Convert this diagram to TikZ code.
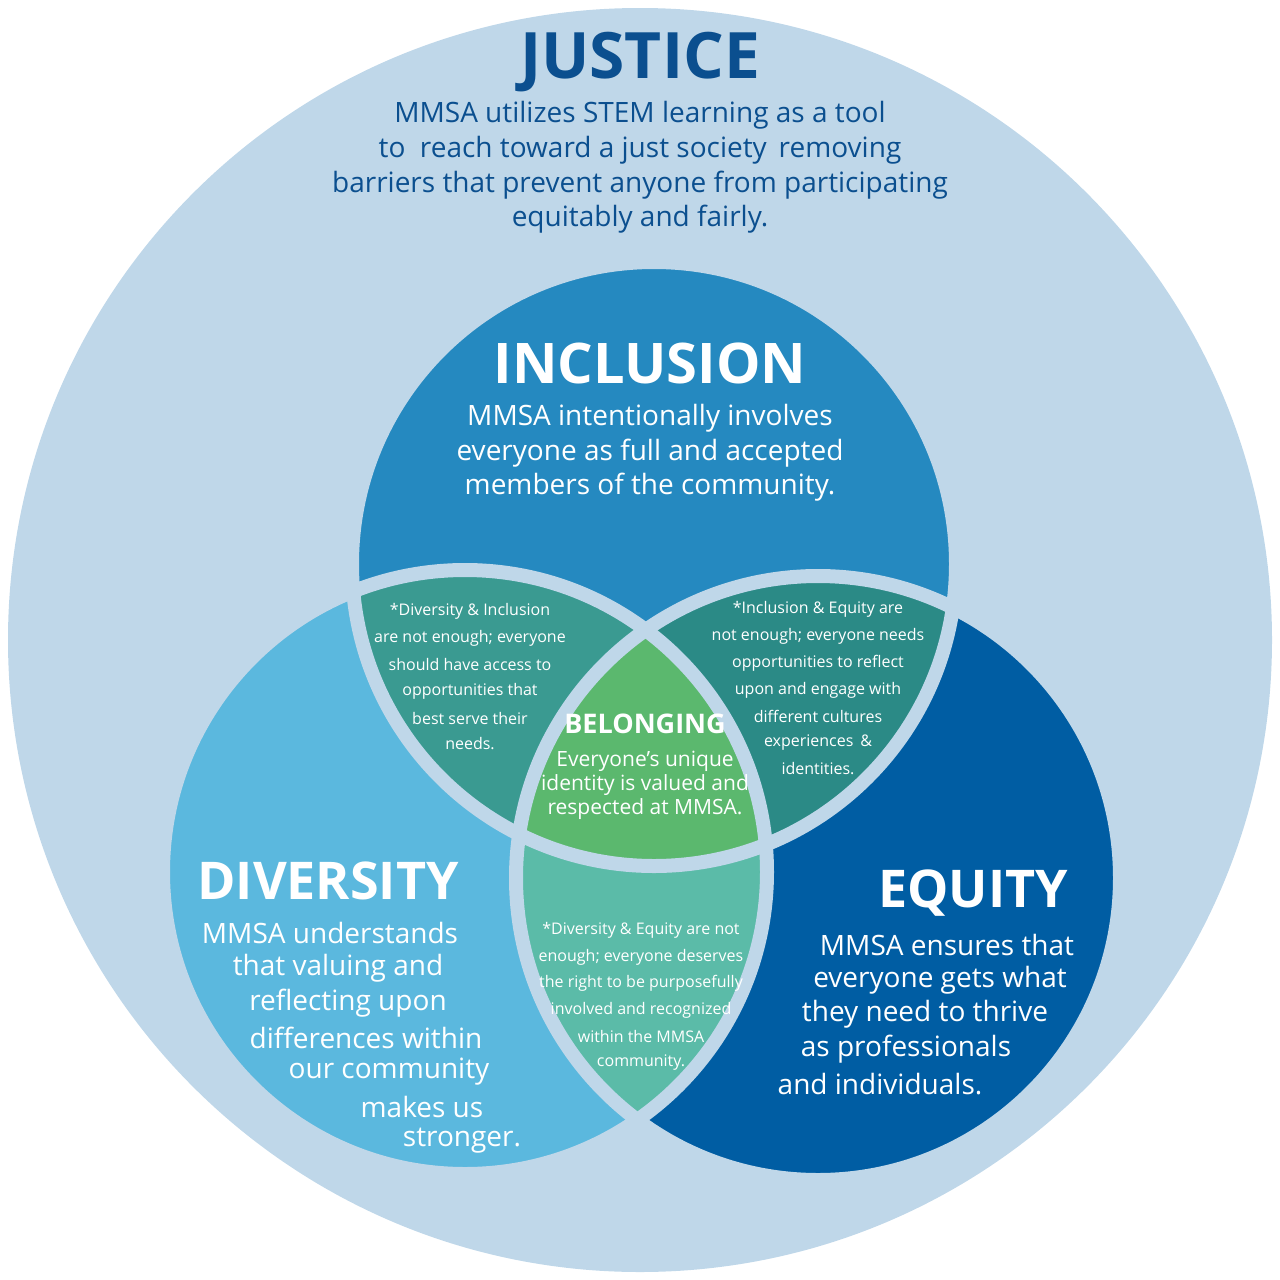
\documentclass[tikz,border=0pt]{standalone}
\usepackage{fontspec}
\setmainfont{Open Sans}
\usetikzlibrary{positioning}
\definecolor{justbg}{HTML}{BFD7E9}
\definecolor{justtxt}{HTML}{0B4F8F}
\definecolor{inccol}{HTML}{2589C0}
\definecolor{divcol}{HTML}{5BB8DE}
\definecolor{equcol}{HTML}{005DA3}
\definecolor{dicol}{HTML}{3A9A91}
\definecolor{iecol}{HTML}{2B8A86}
\definecolor{decol}{HTML}{5BBBA8}
\definecolor{belcol}{HTML}{5BB86E}
\tikzset{
  head/.style={font=\fontsize{#1}{#1}\selectfont\bfseries, text=white},
  body/.style={font=\fontsize{#1}{#1}\selectfont, text=white},
  ring/.style={draw=justbg, line width=14pt}
}
\begin{document}
\begin{tikzpicture}[x=1pt,y=-1pt]
\useasboundingbox (0,0) rectangle (1280,1280);

%Circles
\fill[justbg] (640,640) circle (632);
\def\inc{(654,564) circle (302)}
\def\dvs{(465,872) circle (302)}
\def\equ{(818,878) circle (302)}
\fill[inccol] \inc;
\fill[divcol] \dvs;
\fill[equcol] \equ;
\begin{scope} \clip \inc; \fill[dicol] \dvs; \fill[iecol] \equ; \end{scope}
\begin{scope} \clip \dvs; \fill[decol] \equ; \end{scope}
\begin{scope} \clip \inc; \clip \dvs; \fill[belcol] \equ; \end{scope}
\draw[ring] \inc; \draw[ring] \dvs; \draw[ring] \equ;

%Justice
\node[head=64, text=justtxt] (justice) at (640,62) {JUSTICE};
\foreach \y/\t [count=\i] in {115/MMSA utilizes STEM learning as a tool,
  150/to\ \ reach toward a just society\, removing,
  185/barriers that prevent anyone from participating,
  219/equitably and fairly.}
  \node[body=28, text=justtxt] (jus\i) at (640,\y) {\t};

%Inclusion
\node[head=56] (inclusion) at (650,363) {INCLUSION};
\foreach \y/\t [count=\i] in {418/MMSA intentionally involves,
  453/everyone as full and accepted, 487/members of the community.}
  \node[body=28] (inc\i) at (650,\y) {\t};

%Diversity
\node[head=52] (diversity) at (328,881) {DIVERSITY};
\foreach \x/\y/\t [count=\i] in {330/933/MMSA understands, 338/968/that valuing and,
  348/1003/reflecting upon, 366/1038/differences within, 389/1072/our community,
  422/1107/makes us, 462/1141/stronger.}
  \node[body=28] (div\i) at (\x,\y) {\t};

%Equity
\node[head=52] (equity) at (973,893) {EQUITY};
\foreach \x/\y/\t [count=\i] in {947/945/MMSA ensures that, 940/980/everyone gets what,
  925/1014/they need to thrive, 906/1049/as professionals, 880/1084/and individuals.}
  \node[body=28] (equ\i) at (\x,\y) {\t};

%Overlaps
\foreach \y/\t [count=\i] in {611/*Diversity \& Inclusion, 638/are not enough; everyone,
  664/should have access to, 691/opportunities that, 718/best serve their, 744/needs.}
  \node[body=16] (di\i) at (470,\y) {\t};
\foreach \y/\t [count=\i] in {609/*Inclusion \& Equity are, 636/not enough; everyone needs,
  663/opportunities to reflect, 690/upon and engage with, 716/different cultures,
  743/experiences\, \&, 769/identities.}
  \node[body=16] (ie\i) at (818,\y) {\t};
\foreach \y/\t [count=\i] in {930/*Diversity \& Equity are not, 957/enough; everyone deserves,
  983/the right to be purposefully, 1010/involved and recognized,
  1036/within the MMSA, 1063/community.}
  \node[body=16] (de\i) at (641,\y) {\t};

%Belonging
\node[head=27] (belonging) at (645,724) {BELONGING};
\foreach \y/\t [count=\i] in {761/Everyone’s unique, 785/identity is valued and,
  809/respected at MMSA.}
  \node[body=21] (bel\i) at (645,\y) {\t};
\end{tikzpicture}
\end{document}
